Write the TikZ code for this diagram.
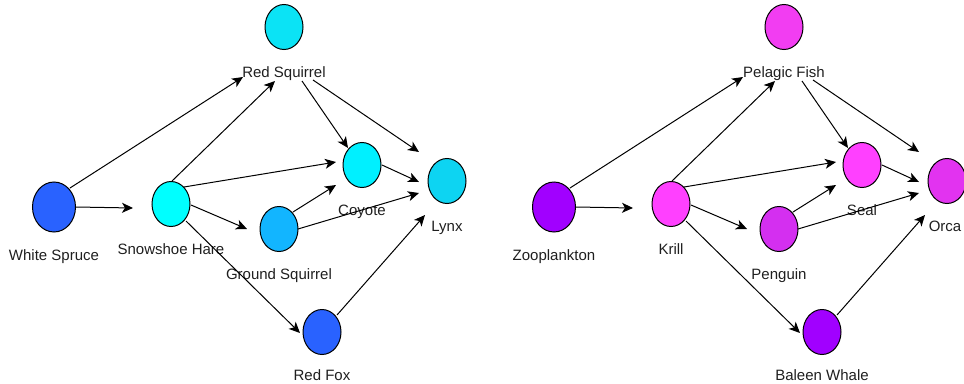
\documentclass[tikz,border=0pt]{standalone}
\usepackage{fontspec}
\setmainfont{Liberation Sans}
\usetikzlibrary{calc,arrows.meta,shapes.geometric}
\definecolor{cSpruce}{HTML}{2962FF}
\definecolor{cHare}{HTML}{00FFFF}
\definecolor{cRedSq}{HTML}{0BE3F5}
\definecolor{cCoyote}{HTML}{00F0FF}
\definecolor{cLynx}{HTML}{0DD4F2}
\definecolor{cGround}{HTML}{12B5FF}
\definecolor{cFox}{HTML}{2962FF}
\definecolor{cZoo}{HTML}{A100FF}
\definecolor{cKrill}{HTML}{FF40FF}
\definecolor{cFish}{HTML}{F23DF2}
\definecolor{cSeal}{HTML}{FF40FF}
\definecolor{cOrca}{HTML}{E233F0}
\definecolor{cPenguin}{HTML}{D42FF0}
\definecolor{cWhale}{HTML}{A100FF}
\tikzset{
  org/.style={ellipse, draw=black, line width=1pt, minimum width=38pt, minimum height=45pt, inner sep=0pt},
  bigorg/.style={org, minimum width=43pt, minimum height=50pt},
  lbl/.style={anchor=base, inner sep=0pt, font=\fontsize{15}{18}\selectfont, text=black!88},
  arr/.style={draw=black, line width=1pt, -{Stealth[length=11pt, width=10pt, inset=3pt]}},
}
\begin{document}
\begin{tikzpicture}[x=1pt, y=-1pt]
\useasboundingbox (0,0) rectangle (964,383);
% ---------- Left web (boreal forest) ----------
\node[bigorg, fill=cSpruce] (ws) at (54,207) {};
\node[org, fill=cHare] (sh) at (171,204) {};
\node[org, fill=cRedSq] (rs) at (284,27) {};
\node[org, fill=cCoyote] (co) at (362,165) {};
\node[org, fill=cLynx] (ly) at (447,181) {};
\node[org, fill=cGround] (gs) at (279,229) {};
\node[org, fill=cFox] (rf) at (322,332) {};
\node[lbl] (wsl) at ($(ws)+(0,53)$) {White Spruce};
\node[lbl] (shl) at ($(sh)+(0,50.5)$) {Snowshoe Hare};
\node[lbl] (rsl) at ($(rs)+(0,50.5)$) {Red Squirrel};
\node[lbl] (col) at ($(co)+(0,50.5)$) {Coyote};
\node[lbl] (lyl) at ($(ly)+(0,50.5)$) {Lynx};
\node[lbl] (gsl) at ($(gs)+(0,50.5)$) {Ground Squirrel};
\node[lbl] (rfl) at ($(rf)+(0,48.5)$) {Red Fox};
\draw[arr] ($(ws)+(16,-19)$) -- ($(rs)+(-41,50)$);
\draw[arr] ($(ws)+(22,0)$) -- ($(sh)+(-38,4)$);
\draw[arr] ($(sh)+(1,-23)$) -- ($(rs)+(-9,54)$);
\draw[arr] ($(sh)+(13,-17)$) -- ($(co)+(-26,-3)$);
\draw[arr] ($(sh)+(20,1)$) -- ($(gs)+(-32,0)$);
\draw[arr] ($(sh)+(15,17)$) -- ($(rf)+(-22,1)$);
\draw[arr] ($(rs)+(18,54)$) -- ($(co)+(-14,-17)$);
\draw[arr] ($(rs)+(29,53)$) -- ($(ly)+(-28,-29)$);
\draw[arr] ($(co)+(20,0)$) -- ($(ly)+(-28,1)$);
\draw[arr] ($(gs)+(14,-17)$) -- ($(co)+(-26,20)$);
\draw[arr] ($(gs)+(19,0)$) -- ($(ly)+(-28,12)$);
\draw[arr] ($(rf)+(15,-17)$) -- ($(ly)+(-22,34)$);
% ---------- Right web (marine) ----------
\node[bigorg, fill=cZoo] (zo) at (554,207) {};
\node[org, fill=cKrill] (kr) at (671,204) {};
\node[org, fill=cFish] (pf) at (784,27) {};
\node[org, fill=cSeal] (se) at (862,165) {};
\node[org, fill=cOrca] (or) at (947,181) {};
\node[org, fill=cPenguin] (pe) at (779,229) {};
\node[org, fill=cWhale] (bw) at (822,332) {};
\node[lbl] (zol) at ($(zo)+(0,53)$) {Zooplankton};
\node[lbl] (krl) at ($(kr)+(0,50.5)$) {Krill};
\node[lbl] (pfl) at ($(pf)+(0,50.5)$) {Pelagic Fish};
\node[lbl] (sel) at ($(se)+(0,50.5)$) {Seal};
\node[lbl] (orl) at ($(or)+(-2,50.5)$) {Orca};
\node[lbl] (pel) at ($(pe)+(0,50.5)$) {Penguin};
\node[lbl] (bwl) at ($(bw)+(0,48.5)$) {Baleen Whale};
\draw[arr] ($(zo)+(16,-19)$) -- ($(pf)+(-41,50)$);
\draw[arr] ($(zo)+(22,0)$) -- ($(kr)+(-38,4)$);
\draw[arr] ($(kr)+(1,-23)$) -- ($(pf)+(-9,54)$);
\draw[arr] ($(kr)+(13,-17)$) -- ($(se)+(-26,-3)$);
\draw[arr] ($(kr)+(20,1)$) -- ($(pe)+(-32,0)$);
\draw[arr] ($(kr)+(15,17)$) -- ($(bw)+(-22,1)$);
\draw[arr] ($(pf)+(18,54)$) -- ($(se)+(-14,-17)$);
\draw[arr] ($(pf)+(29,53)$) -- ($(or)+(-28,-29)$);
\draw[arr] ($(se)+(20,0)$) -- ($(or)+(-28,1)$);
\draw[arr] ($(pe)+(14,-17)$) -- ($(se)+(-26,20)$);
\draw[arr] ($(pe)+(19,0)$) -- ($(or)+(-28,12)$);
\draw[arr] ($(bw)+(15,-17)$) -- ($(or)+(-22,34)$);
\end{tikzpicture}
\end{document}
